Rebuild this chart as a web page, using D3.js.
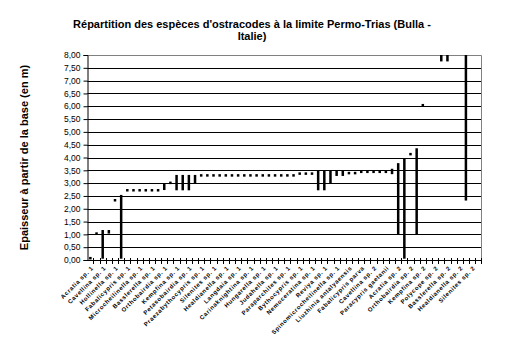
<!DOCTYPE html>
<html>
<head>
<meta charset="utf-8">
<script src="https://cdn.jsdelivr.net/npm/d3@7"></script>
<style>
  html, body { margin: 0; padding: 0; background: #fff; }
  svg { display: block; }
</style>
</head>
<body>
<svg id="chart" width="505" height="340"></svg>
<script>
// ---- DATA ----
const titleLines = ["Répartition des espèces d'ostracodes à la limite Permo-Trias (Bulla -", "Italie)"];
const yAxisTitle = "Epaisseur à partir de la base (en m)";
const yTicks = [0, 0.5, 1, 1.5, 2, 2.5, 3, 3.5, 4, 4.5, 5, 5.5, 6, 6.5, 7, 7.5, 8];

const categories = [
  "Acratia sp. 1", "Bairdiacypris sp. 1", "Cavellina sp. 1", "Bairdia sp. 1",
  "Hollinella sp. 1", "Bairdia cf. fornicata", "Fabalicypris sp. 1", "Bairdia sp. 2",
  "Microcheilinella sp. 1", "Paracypris sp. 1", "Basslerella sp. 1", "Cryptobairdia sp. 1",
  "Orthobairdia sp. 1", "Bairdia sp. 3", "Kempfina sp. 1", "Bairdia pruniseminata",
  "Petasobairdia sp. 1", "Polycope sp. 1", "Praezabythocypris sp. 1", "Pseudobythocypris sp. 1",
  "Silenites sp. 1", "Sargentina sp. 1", "Healdianella sp. 1", "Bairdia sp. 4",
  "Langdaia sp. 1", "Acanthoscapha sp. 1", "Carinaknightina sp. 1", "Bairdia sp. 5",
  "Hungarella sp. 1", "Indivisia sp. 1", "Judahella sp. 1", "Knoxiella sp. 1",
  "Paraparchites sp. 1", "Roundyella sp. 1", "Bythocypris sp. 1", "Monoceratina sp. 1",
  "Nemoceratina sp. 1", "Bairdia deducta", "Reviya sp. 1", "Shemonaella sp. 1",
  "Spinomicrocheilinella sp. 1", "Bairdia sp. 6", "Liuzhinia antalyaensis", "Bairdia sp. 7",
  "Fabalicypris parva", "Bairdiacypris sp. 2", "Cavellina sp. 2", "Microcheilinella sp. 2",
  "Paracypris gaetanii", "Bairdia sp. 8", "Acratia sp. 2", "Cryptobairdia sp. 2",
  "Orthobairdia sp. 2", "Hollinella sp. 2", "Kempfina sp. 2", "Langdaia sp. 2",
  "Polycope sp. 2", "Bairdia sp. 9", "Basslerella sp. 2", "Sargentina sp. 2",
  "Healdianella sp. 2", "Bairdia sp. 10", "Silenites sp. 2", "Petasobairdia sp. 2"
];

const lowValues = [
  0.05, 1.02, 0.05, 1.03, 2.30, 0.05, 2.70, 2.70,
  2.70, 2.70, 2.70, 2.70, 2.73, 3.00, 2.72, 2.72,
  2.72, 3.00, 3.28, 3.28, 3.28, 3.28, 3.28, 3.28,
  3.28, 3.28, 3.28, 3.28, 3.28, 3.28, 3.28, 3.28,
  3.28, 3.28, 3.37, 3.37, 3.37, 2.72, 2.72, 3.00,
  3.28, 3.28, 3.38, 3.38, 3.44, 3.44, 3.44, 3.44,
  3.44, 3.35, 1.00, 0.05, 4.10, 1.00, 6.02, null,
  null, 7.75, 7.75, null, null, 2.32, null, null
];
const highValues = [
  0.12, 1.08, 1.17, 1.17, 2.38, 2.54, 2.77, 2.77,
  2.77, 2.77, 2.77, 2.77, 3.00, 3.06, 3.32, 3.32,
  3.32, 3.32, 3.35, 3.35, 3.35, 3.35, 3.35, 3.35,
  3.35, 3.35, 3.35, 3.35, 3.35, 3.35, 3.35, 3.35,
  3.35, 3.35, 3.42, 3.42, 3.42, 3.48, 3.48, 3.48,
  3.48, 3.48, 3.44, 3.44, 3.49, 3.49, 3.49, 3.49,
  3.49, 3.56, 3.78, 3.95, 4.18, 4.36, 6.09, null,
  null, 8.00, 8.00, null, null, 8.00, null, null
];

// ---- CHART ----
const svg = d3.select("#chart");
svg.append("rect").attr("width", 505).attr("height", 340).attr("fill", "#fff");

const pLeft = 87.3, pRight = 481.3, pTop = 55, pBottom = 260;
const x = d3.scaleBand().domain(categories).range([pLeft, pRight]).padding(0);
const y = d3.scaleLinear().domain([0, 8]).range([pBottom, pTop]);

const font = "'Liberation Sans', Arial, sans-serif";

// title
svg.append("text")
  .attr("x", 252).attr("y", 27.5)
  .attr("text-anchor", "middle")
  .attr("font-family", font).attr("font-weight", "bold").attr("font-size", 11)
  .selectAll("tspan").data(titleLines).join("tspan")
  .attr("x", 252).attr("dy", (d, i) => i === 0 ? 0 : 12.5)
  .text(d => d);

// y axis title
svg.append("text")
  .attr("transform", "translate(28,157.5) rotate(-90)")
  .attr("text-anchor", "middle")
  .attr("font-family", font).attr("font-weight", "bold").attr("font-size", 11)
  .text(yAxisTitle);

// gridlines
svg.append("g").selectAll("line").data(yTicks.filter(t => t > 0 && t < 8)).join("line")
  .attr("x1", pLeft).attr("x2", pRight)
  .attr("y1", d => Math.round(y(d)) + 0.5).attr("y2", d => Math.round(y(d)) + 0.5)
  .attr("stroke", "#000").attr("stroke-width", 1);

// plot border (top, right) gray
svg.append("path")
  .attr("d", `M${pLeft},${pTop + 0.5}H${Math.round(pRight) + 0.5}V${pBottom}`)
  .attr("fill", "none").attr("stroke", "#808080").attr("stroke-width", 1);

// y axis
const yAxis = d3.axisLeft(y).tickValues(yTicks).tickSize(4).tickPadding(3)
  .tickFormat(d => d3.format(".2f")(d).replace(".", ","));
const gy = svg.append("g").attr("transform", `translate(${Math.round(pLeft) + 0.5},0)`).call(yAxis);
gy.select(".domain").attr("stroke", "#000");
gy.selectAll(".tick line").attr("stroke", "#000");
gy.selectAll(".tick text").attr("font-family", font).attr("font-size", 8.5).attr("fill", "#000");

// x axis: crossing ticks at category boundaries
svg.append("line")
  .attr("x1", pLeft).attr("x2", pRight)
  .attr("y1", pBottom + 0.5).attr("y2", pBottom + 0.5)
  .attr("stroke", "#000");
const boundaries = categories.map(c => x(c)).concat([pRight]);
svg.append("g").selectAll("line").data(boundaries.slice(1)).join("line")
  .attr("x1", d => Math.round(d) + 0.5).attr("x2", d => Math.round(d) + 0.5)
  .attr("y1", pBottom - 2).attr("y2", pBottom + 4)
  .attr("stroke", "#000");

// category labels (every other)
svg.append("g").selectAll("text").data(categories.filter((c, i) => i % 2 === 0)).join("text")
  .attr("transform", d => `translate(${x(d) + x.bandwidth() / 2 + 2},${pBottom + 7}) rotate(-45)`)
  .attr("text-anchor", "end")
  .attr("dy", "0.35em")
  .attr("font-family", font).attr("font-size", 6).attr("font-weight", "bold")
  .attr("letter-spacing", 0.6)
  .attr("fill", "#000")
  .text(d => d);

// high-low bars
const bars = categories.map((c, i) => ({ c, lo: lowValues[i], hi: highValues[i] }))
  .filter(d => d.lo !== null && d.hi !== null);
svg.append("g").selectAll("rect").data(bars).join("rect")
  .attr("x", d => x(d.c) + x.bandwidth() / 2 - 1.25)
  .attr("width", 2.5)
  .attr("y", d => y(d.hi))
  .attr("height", d => Math.max(2.5, y(d.lo) - y(d.hi)))
  .attr("fill", "#000");
</script>
</body>
</html>
